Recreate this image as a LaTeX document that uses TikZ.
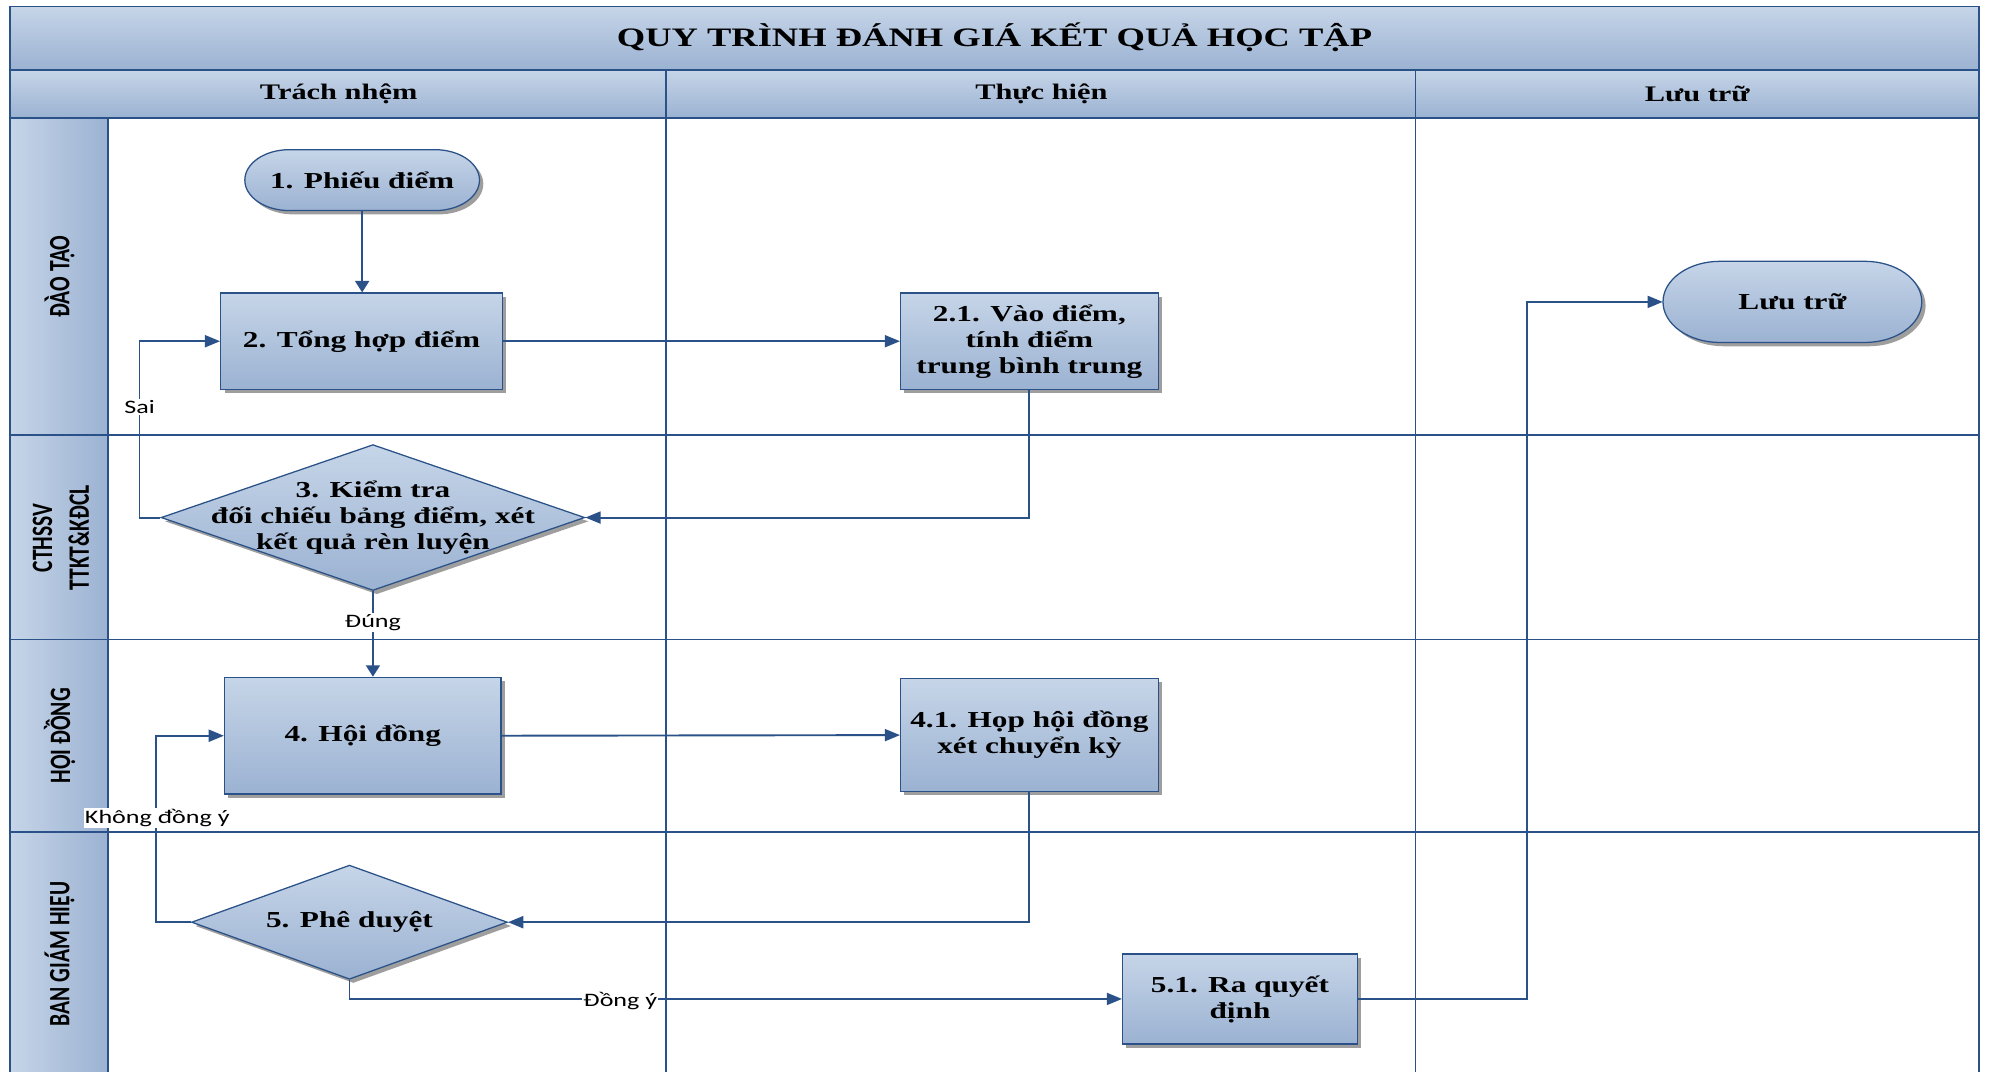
\documentclass[tikz,border=0pt]{standalone}
\usepackage{fontspec}
\setmainfont{Liberation Serif}
\newfontfamily\bxfam{Liberation Serif}[FakeStretch=1.37]
\newfontfamily\lbfam{Carlito}[FakeStretch=1.37]
\newfontfamily\lnfam{Carlito}[FakeStretch=0.73]
\usetikzlibrary{arrows.meta,shapes.geometric,shadows}
\definecolor{lnc}{RGB}{42,82,136}
\definecolor{ftop}{RGB}{198,213,232}
\definecolor{fbot}{RGB}{155,178,210}
\newcommand\boxfnt{\bxfam\bfseries\fontsize{18}{20.5}\selectfont}
\begin{document}
\begin{tikzpicture}[x=1pt,y=1pt,
  shad/.style={drop shadow={shadow xshift=3pt,shadow yshift=-3pt,fill=black!38,opacity=1}},
  fillg/.style={top color=ftop,bottom color=fbot},
  boxst/.style={draw=lnc,line width=1pt,fillg,shad,rectangle,inner sep=0pt,align=center,font=\boxfnt},
  diast/.style={draw=lnc,line width=1pt,fillg,shad,diamond,inner sep=0pt},
  stad/.style={draw=lnc,line width=1pt,fillg,shad},
  txt/.style={inner sep=0pt,align=center,font=\boxfnt},
  hdr/.style={draw=lnc,line width=1.2pt,fillg},
  lanecell/.style={draw=lnc,line width=1.2pt,left color=ftop,right color=fbot},
  laneline/.style={draw=lnc,line width=1.3pt},
  lanelbl/.style={rotate=90,align=center,inner sep=0pt,font=\lnfam\bfseries\fontsize{23.3}{29}\selectfont},
  harr/.style={draw=lnc,line width=1.5pt,-{Triangle[length=12pt,width=9.5pt]}},
  varr/.style={draw=lnc,line width=1.5pt,-{Triangle[length=9pt,width=11pt]}},
  lbl/.style={fill=white,inner sep=1pt,font=\lbfam\fontsize{15}{17}\selectfont}]
\useasboundingbox (0,0) rectangle (1568,-845);
% title and header
\path[hdr] (8,-5) rectangle (1560,-55);
\node[font=\bxfam\bfseries\fontsize{21}{24}\selectfont] (title) at (784,-29) {QUY TRÌNH ĐÁNH GIÁ KẾT QUẢ HỌC TẬP};
\path[hdr] (8,-55) rectangle (525,-93);
\path[hdr] (525,-55) rectangle (1116,-93);
\path[hdr] (1116,-55) rectangle (1560,-93);
\node[font=\bxfam\bfseries\fontsize{17.5}{20}\selectfont] (h1) at (267,-74) {Trách nhệm};
\node[font=\bxfam\bfseries\fontsize{17.5}{20}\selectfont] (h2) at (821,-74) {Thực hiện};
\node[font=\bxfam\bfseries\fontsize{17.5}{20}\selectfont] (h3) at (1338,-74) {Lưu trữ};
% lane label column
\path[lanecell] (8,-93) rectangle (85,-343);
\path[lanecell] (8,-343) rectangle (85,-504);
\path[lanecell] (8,-504) rectangle (85,-656);
\path[lanecell] (8,-656) -- (85,-656) -- (85,-846) -- (8,-846) -- cycle;
% lane grid
\draw[laneline] (85,-343) -- (1560,-343);
\draw[laneline] (85,-504) -- (1560,-504);
\draw[laneline] (85,-656) -- (1560,-656);
\draw[laneline] (525,-93) -- (525,-846);
\draw[laneline] (1116,-93) -- (1116,-846);
\draw[laneline] (1560,-93) -- (1560,-846);
\draw[laneline] (8,-93) -- (8,-846);
% lane labels
\node[lanelbl] (l1) at (47,-218) {ĐÀO TẠO};
\node[lanelbl] (l2) at (48,-424) {CTHSSV\\TTKT\&KĐCL};
\node[lanelbl] (l3) at (47,-580) {HỘI ĐỒNG};
\node[lanelbl] (l4) at (47,-752) {BAN GIÁM HIỆU};
% terminators
\path[stad] (228,-118) -- (343,-118) arc[start angle=90,end angle=-90,x radius=35,y radius=24] -- (228,-166) arc[start angle=270,end angle=90,x radius=35,y radius=24] -- cycle;
\node[txt,minimum width=185pt,minimum height=48pt] (n1) at (285.5,-142) {1. Phiếu điểm};
\path[stad] (1356,-206) -- (1470,-206) arc[start angle=90,end angle=-90,x radius=45,y radius=32] -- (1356,-270) arc[start angle=270,end angle=90,x radius=45,y radius=32] -- cycle;
\node[txt,minimum width=204pt,minimum height=64pt] (nL) at (1413,-238) {Lưu trữ};
% process boxes
\node[boxst,minimum width=222pt,minimum height=76pt] (n2) at (285,-269) {2. Tổng hợp điểm};
\node[boxst,minimum width=203pt,minimum height=76pt] (n21) at (811.5,-269) {2.1. Vào điểm,\\ tính điểm\\trung bình trung};
\node[diast,minimum width=334pt,minimum height=115pt] (n3) at (294,-408) {};
\node[txt] (n3t) at (n3.center) {3. Kiểm tra\\đối chiếu bảng điểm, xét\\kết quả rèn luyện};
\node[boxst,minimum width=218pt,minimum height=92pt] (n4) at (286,-580) {4. Hội đồng};
\node[boxst,minimum width=203pt,minimum height=89pt] (n41) at (811.5,-579.5) {4.1. Họp hội đồng\\xét chuyển kỳ};
\node[diast,minimum width=249pt,minimum height=90pt] (n5) at (275.5,-727) {};
\node[txt] (n5t) at (n5.center) {5. Phê duyệt};
\node[boxst,minimum width=185pt,minimum height=71pt] (n51) at (977.5,-787.5) {5.1. Ra quyết\\định};
% connectors
\coordinate (c1) at (110,-269);
\coordinate (c2) at (123,-580);
\coordinate (c3) at (1204,-238);
\draw[varr] (n1.south) -- (n1.south |- n2.north);
\draw[harr] (n2.east) -- (n21.west);
\draw[harr] (n21.south) |- (n3.east);
\draw[harr] (n3.west) -| (c1) -- (n2.west);
\draw[varr] (n3.south) -- (n3.south |- n4.north);
\draw[harr] (n4.east) -- (n41.west);
\draw[harr] (n41.south) |- (n5.east);
\draw[harr] (n5.west) -| (c2) -- (n4.west);
\draw[harr] (n5.south) |- (n51.west);
\draw[harr] (n51.east) -| (c3) -- (nL.west);
% connector labels
\node[lbl] (t1) at (110,-321) {Sai};
\node[lbl] (t2) at (294,-491) {Đúng};
\node[lbl] (t3) at (124,-645) {Không đồng ý};
\node[lbl] (t4) at (489,-789) {Đồng ý};
\end{tikzpicture}
\end{document}
